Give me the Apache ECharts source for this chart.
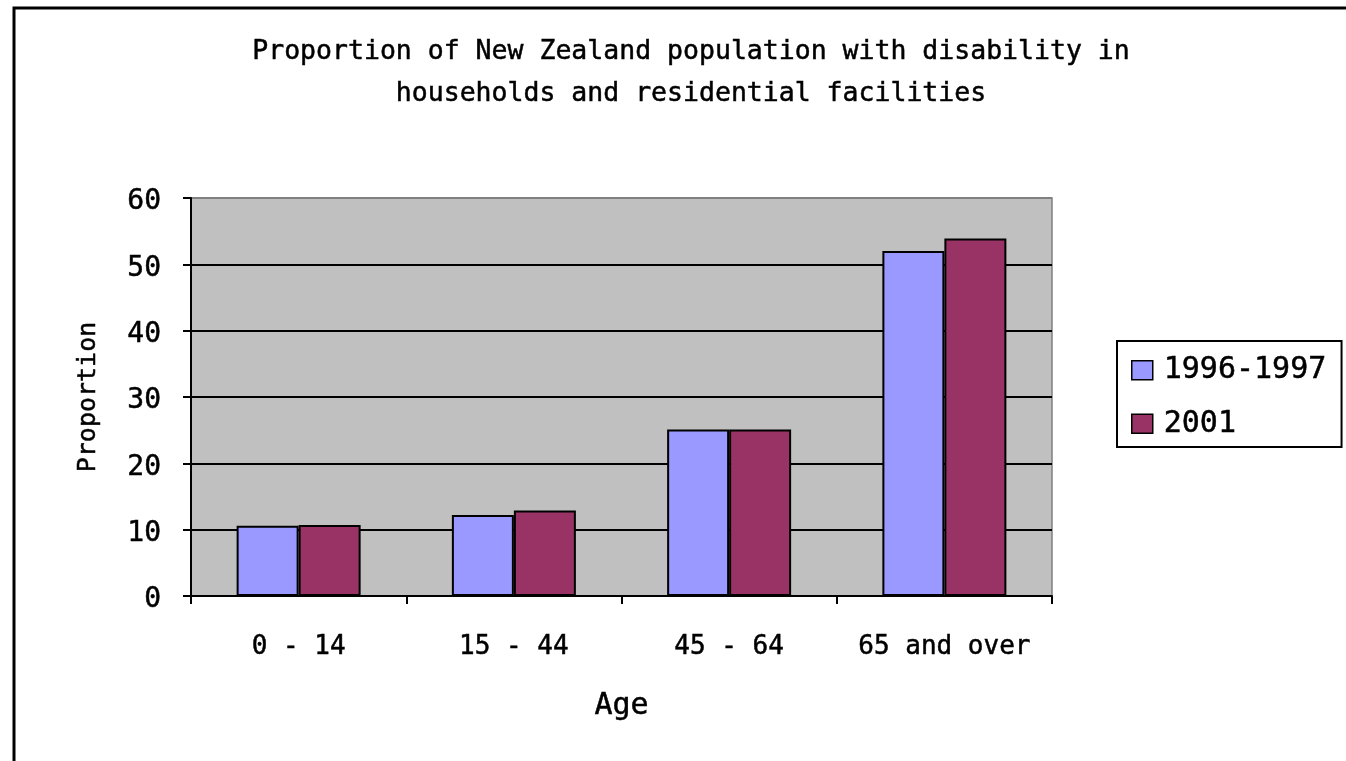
<!DOCTYPE html>
<html>
<head>
<meta charset="utf-8">
<title>Proportion of New Zealand population with disability</title>
<script src="https://cdn.jsdelivr.net/npm/echarts@6/dist/echarts.min.js"></script>
<style>
  html, body { margin: 0; padding: 0; background: #ffffff; }
  #chart { width: 1346px; height: 761px; }
</style>
</head>
<body>
<div id="chart"></div>
<script>
// Age groups along the x axis
var categories = ['0 - 14', '15 - 44', '45 - 64', '65 and over'];
// Proportion (%) of each age group with disability
var values1996 = [10.6, 12.2, 25.1, 52.0];
var values2001 = [10.7, 12.9, 25.1, 53.9];
var seriesNames = ['1996-1997', '2001'];
var yTicks = { min: 0, max: 60, interval: 10 };

var FONT = '"DejaVu Sans Mono", monospace';
// slight outline so the thin glyphs read a little heavier
var INK = { textBorderColor: '#000000', textBorderWidth: 0.5 };

var chart = echarts.init(document.getElementById('chart'), null, { renderer: 'canvas' });

chart.setOption({
  backgroundColor: '#ffffff',
  animation: false,
  title: {
    text: 'Proportion of New Zealand population with disability in\nhouseholds and residential facilities',
    left: 691,
    top: 31,
    padding: 0,
    textAlign: 'center',
    textStyle: Object.assign({
      fontFamily: FONT,
      fontSize: 26.5,
      fontWeight: 'normal',
      color: '#000000',
      lineHeight: 42
    }, INK)
  },
  legend: {
    orient: 'vertical',
    left: 1117,
    top: 341,
    padding: [14, 15, 8, 14],
    itemGap: 23,
    itemWidth: 21,
    itemHeight: 19,
    icon: 'rect',
    borderColor: '#000000',
    borderWidth: 2,
    backgroundColor: '#ffffff',
    itemStyle: { borderColor: '#000000', borderWidth: 1.5 },
    textStyle: Object.assign({
      fontFamily: FONT, fontSize: 30, color: '#000000', lineHeight: 30, padding: [0, 0, 0, 6]
    }, INK),
    data: seriesNames
  },
  grid: {
    left: 191,
    top: 198,
    width: 861,
    height: 398,
    show: true,
    backgroundColor: '#C0C0C0',
    borderColor: '#808080',
    borderWidth: 1.5,
    containLabel: false
  },
  xAxis: {
    type: 'category',
    data: categories,
    boundaryGap: true,
    name: 'Age',
    nameLocation: 'middle',
    nameGap: 95,
    nameTextStyle: Object.assign({ fontFamily: FONT, fontSize: 30, color: '#000000' }, INK),
    axisLine: { show: true, lineStyle: { color: '#000000', width: 2 } },
    axisTick: { show: true, length: 8, alignWithLabel: false, lineStyle: { color: '#000000', width: 2 } },
    axisLabel: Object.assign({ margin: 38, fontFamily: FONT, fontSize: 26, color: '#000000', interval: 0 }, INK),
    splitLine: { show: false }
  },
  yAxis: {
    type: 'value',
    min: yTicks.min,
    max: yTicks.max,
    interval: yTicks.interval,
    name: 'Proportion',
    nameLocation: 'middle',
    nameRotate: 90,
    nameGap: 90,
    nameTextStyle: Object.assign({ fontFamily: FONT, fontSize: 25, color: '#000000' }, INK),
    axisLine: { show: true, lineStyle: { color: '#000000', width: 2 } },
    axisTick: { show: true, inside: false, length: 8, lineStyle: { color: '#000000', width: 2 } },
    // a short line box hung from the tick sets each number a few pixels below its gridline
    axisLabel: Object.assign({
      margin: 30, fontFamily: FONT, fontSize: 28, color: '#000000',
      verticalAlign: 'top', lineHeight: 8
    }, INK),
    splitLine: {
      show: true,
      lineStyle: {
        color: ['#000000', '#000000', '#000000', '#000000', '#000000', '#000000', '#808080'],
        width: 2
      }
    }
  },
  series: [
    {
      name: seriesNames[0],
      type: 'bar',
      data: values1996,
      barWidth: 62,
      barGap: '0%',
      itemStyle: { color: '#9999FF', borderColor: '#000000', borderWidth: 2 }
    },
    {
      name: seriesNames[1],
      type: 'bar',
      data: values2001,
      barWidth: 62,
      barGap: '0%',
      itemStyle: { color: '#993366', borderColor: '#000000', borderWidth: 2 }
    }
  ],
  graphic: [
    // frame around the chart area: top and left edges
    {
      type: 'polyline',
      shape: { points: [[14, 761], [14, 8], [1346, 8]] },
      style: { stroke: '#000000', lineWidth: 3, fill: null },
      z: 100
    }
  ]
});
</script>
</body>
</html>
